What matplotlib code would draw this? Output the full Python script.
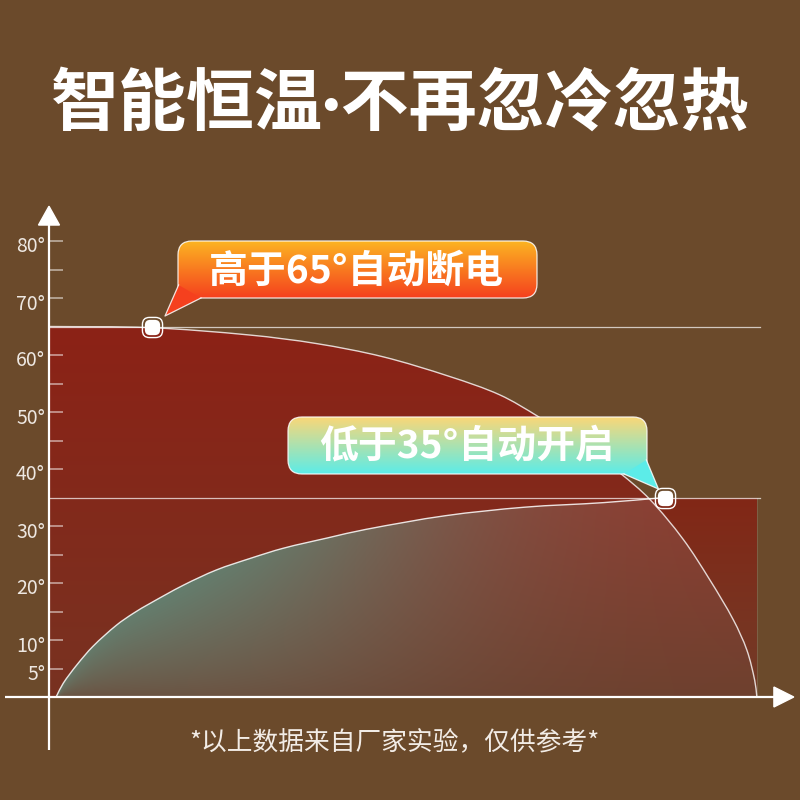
import numpy as np
import matplotlib
matplotlib.use("Agg")
import matplotlib.pyplot as plt
from matplotlib.patches import FancyBboxPatch, Polygon, PathPatch
from matplotlib.path import Path

plt.rcParams['font.family'] = ['Noto Sans CJK SC', 'DejaVu Sans']

# ---------------- data ----------------
title = "智能恒温·不再忽冷忽热"
footer = "*以上数据来自厂家实验，仅供参考*"
bubble_hi = "高于65°自动断电"
bubble_lo = "低于35°自动开启"

y_ticks = [5, 10, 15, 20, 25, 30, 40, 45, 50, 55, 60, 70, 75, 80]
y_labels = ["5°", "10°", "", "20°", "", "30°", "40°", "", "50°", "", "60°", "70°", "", "80°"]

upper_limit = 65
lower_limit = 35

# falling (heating off) curve
fall_x = [0, 14.2, 28.3, 37.7, 47.0, 56.5, 63.5, 68.9, 74.8, 80.4, 84.6, 89.3, 93.1, 96.4, 98.3, 99.4, 99.7]
fall_t = [65, 64.8, 63.5, 62, 59.7, 56.2, 53, 49.2, 44.4, 39.3, 34.7, 27.7, 20.5, 13.5, 8.2, 2.9, 0]

# rising (heating on) curve
rise_x = [1.0, 2.0, 3.9, 6.2, 9.5, 11.9, 14.2, 18.9, 23.6, 28.3, 33.0, 39.2, 44.6, 55.8, 67.0, 78.1, 86.8]
rise_t = [0, 2.4, 5.6, 8.9, 12.6, 14.7, 16.4, 19.6, 22.3, 24.3, 26.1, 27.9, 29.4, 31.8, 33.3, 34.1, 35]

dot_x = [14.5, 86.8]
dot_t = [65, 35]
x_end = 99.7

# ---------------- helpers ----------------
BG = '#6B4A2B'
PX = np.array([7.1, 5.7])  # pixels per data unit (x, y), used for chord lengths


def spline(xs, ys):
    """Smooth cubic Bezier path (chordal Catmull-Rom) through the given points."""
    P = np.column_stack([xs, ys]).astype(float)
    n = len(P)
    d = np.linalg.norm(np.diff(P * PX, axis=0), axis=1)
    m = np.zeros_like(P)
    m[0] = (P[1] - P[0]) / d[0]
    m[-1] = (P[-1] - P[-2]) / d[-1]
    for i in range(1, n - 1):
        m[i] = (P[i + 1] - P[i - 1]) / (d[i - 1] + d[i])
    verts = [P[0]]
    codes = [Path.MOVETO]
    for i in range(n - 1):
        verts += [P[i] + m[i] * d[i] / 3, P[i + 1] - m[i + 1] * d[i] / 3, P[i + 1]]
        codes += [Path.CURVE4] * 3
    return verts, codes


def vgrad(top, bottom, n=256):
    top = np.array(top) / 255.0
    bottom = np.array(bottom) / 255.0
    t = np.linspace(0, 1, n)[:, None]
    return (bottom * (1 - t) + top * t)[:, None, :]  # row0 = bottom


fig = plt.figure(figsize=(8, 8), dpi=100, facecolor=BG)
ax = fig.add_axes([49 / 800, 103 / 800, 710 / 800, 456 / 800])
ax.set_facecolor('none')
for s in ax.spines.values():
    s.set_visible(False)

# rectangle region below 35
rect_poly = Polygon([(0, 0), (x_end, 0), (x_end, lower_limit), (0, lower_limit)],
                    closed=True, transform=ax.transData, fc='none', ec='none')
ax.add_patch(rect_poly)
im = ax.imshow(vgrad((130, 39, 22), (114, 60, 40)), extent=(0, x_end, 0, lower_limit),
               origin='lower', aspect='auto', zorder=1, interpolation='bilinear')
im.set_clip_path(rect_poly)

# region under falling curve
fv, fc = spline(fall_x, fall_t)
fall_path = Path(fv + [(0, 0), (0, 0)], fc + [Path.LINETO, Path.CLOSEPOLY])
fall_patch = PathPatch(fall_path, transform=ax.transData, fc='none', ec='none')
ax.add_patch(fall_patch)
im = ax.imshow(vgrad((140, 34, 22), (120, 50, 33)), extent=(0, 100, 0, upper_limit),
               origin='lower', aspect='auto', zorder=1.1, interpolation='bilinear')
im.set_clip_path(fall_patch)

# region under rising curve, bounded on the right by the falling curve
cut = 84.6
rx = [x for x in rise_x if x < cut] + [cut]
rt = [t for x, t in zip(rise_x, rise_t) if x < cut] + [34.7]
v1, c1 = spline(rx, rt)
fx2 = [x for x in fall_x if x >= cut]
ft2 = [t for x, t in zip(fall_x, fall_t) if x >= cut]
v2, c2 = spline(fx2, ft2)
c_path = Path(v1 + v2[1:] + [(rise_x[0], 0), (rise_x[0], 0)],
              c1 + c2[1:] + [Path.LINETO, Path.CLOSEPOLY])
c_patch = PathPatch(c_path, transform=ax.transData, fc='none', ec='none')
ax.add_patch(c_patch)
gx = np.linspace(0, 100, 500)[None, :]
gt = np.linspace(0, lower_limit, 250)[:, None]
f = gt / lower_limit
base_top = np.array([142, 60, 48]) / 255
base_bot = np.array([110, 64, 46]) / 255
base = base_bot[None, None, :] * (1 - f[..., None]) + base_top[None, None, :] * f[..., None]
base = np.broadcast_to(base, (250, 500, 3)).copy()
teal = np.array([100, 126, 110]) / 255
tc = np.interp(gx, rise_x, rise_t)
r = np.clip(gt / np.maximum(tc, 0.5), 0, 1)
w = np.exp(-((gx - 16) / 42) ** 2) * (0.3 + 0.7 * r ** 0.8)
w = np.clip(w, 0, 0.97)
img = base * (1 - w[..., None]) + teal[None, None, :] * w[..., None]
im = ax.imshow(img, extent=(0, 100, 0, lower_limit), origin='lower', aspect='auto',
               zorder=1.2, interpolation='bilinear')
im.set_clip_path(c_patch)

# limit lines
line_c = (1, 1, 1, 0.7)
ax.plot([0, 100.1], [upper_limit, upper_limit], color=line_c, lw=0.9, zorder=3, clip_on=False)
ax.plot([0, 100.1], [lower_limit, lower_limit], color=line_c, lw=0.9, zorder=3, clip_on=False)
ax.plot([x_end, x_end], [0, lower_limit], color=(1, 1, 1, 0.15), lw=0.6, zorder=3)

# curves
ax.add_patch(PathPatch(Path(fv, fc), fc='none', ec=(1, 1, 1, 0.8), lw=1.0, zorder=4,
                       transform=ax.transData))
rv, rc = spline(rise_x, rise_t)
ax.add_patch(PathPatch(Path(rv, rc), fc='none', ec=(1, 1, 1, 0.85), lw=1.0, zorder=4,
                       transform=ax.transData))

# axes lines + arrows
ax.plot([0, 0], [-9.3, 83.0], color='white', lw=1.6, zorder=6, clip_on=False,
        solid_capstyle='butt')
ax.fill([-1.48, 1.48, 0], [82.8, 82.8, 86.1], color='white', zorder=6, clip_on=False)
ax.plot([-6.2, 102.4], [0, 0], color='white', lw=1.6, zorder=6, clip_on=False,
        solid_capstyle='butt')
ax.fill([102.1, 102.1, 104.9], [-1.75, 1.75, 0], color='white', zorder=6, clip_on=False)

# ticks (labels drawn slightly below the tick, as in the design)
ax.set_xticks([])
ax.set_yticks(y_ticks, [""] * len(y_ticks))
ax.tick_params(axis='y', direction='in', length=10, width=1.1, color=(1, 1, 1, 0.6))
for t, lab in zip(y_ticks, y_labels):
    if lab:
        ax.annotate(lab, xy=(0, t), xycoords=('axes fraction', 'data'),
                    xytext=(-4, -6), textcoords='offset pixels', ha='right', va='center',
                    color='#EEE8E2', fontsize=14, annotation_clip=False)

# dots (rounded squares)
rs = FancyBboxPatch((-0.5, -0.5), 1, 1, boxstyle='round,pad=0,rounding_size=0.35').get_path()
ax.plot(dot_x, dot_t, ls='none', marker=rs, ms=14.5, mfc='none', mec='white', mew=1.0,
        zorder=9, clip_on=False)
ax.plot(dot_x, dot_t, ls='none', marker=rs, ms=11, mfc='white', mec='none',
        zorder=10, clip_on=False)

ax.set_xlim(0, 100)
ax.set_ylim(0, 80)

# ---------------- overlay (pixel coordinates) ----------------
ov = fig.add_axes([0, 0, 1, 1], zorder=10)
ov.axis('off')
ov.patch.set_alpha(0)


def bubble(x0, y0, x1, y1, top, bottom, tail, text, tx, ty):
    box = FancyBboxPatch((x0, y0), x1 - x0, y1 - y0, boxstyle='round,pad=0,rounding_size=14',
                         fc='none', ec=(1, 1, 1, 0.85), lw=0.9, zorder=20)
    ov.add_patch(box)
    g = vgrad(top, bottom)[::-1]
    im = ov.imshow(g, extent=(x0, x1, y1, y0), origin='upper', aspect='auto',
                   zorder=19, interpolation='bilinear')
    im.set_clip_path(box)
    ov.add_patch(Polygon(tail, closed=True, fc=np.array(bottom) / 255, ec='none', zorder=21))
    xs, ys = zip(*tail)
    ov.plot(xs, ys, color=(1, 1, 1, 0.85), lw=0.9, zorder=22)
    ov.text(tx, ty, text, color='white', fontsize=28, fontweight='bold',
            ha='center', va='center', zorder=23)


bubble(178, 241, 537, 298, (252, 180, 34), (245, 64, 30),
       [(178.6, 285), (165, 316), (201, 298)],
       bubble_hi, 356, 271)
bubble(288, 417, 647, 474, (250, 215, 120), (92, 236, 232),
       [(646.4, 460), (658.5, 489), (624, 474)],
       bubble_lo, 467, 446)

ov.text(400, 104, title, color='white', fontsize=49, fontweight='bold',
        family=['Lato', 'Noto Sans CJK SC'], ha='center', va='center')
ov.text(394, 743, footer, color='#F2ECE6', fontsize=18.5, ha='center', va='center')

ov.set_xlim(0, 800)
ov.set_ylim(800, 0)

fig.savefig('out.png', dpi=100, facecolor=BG)
